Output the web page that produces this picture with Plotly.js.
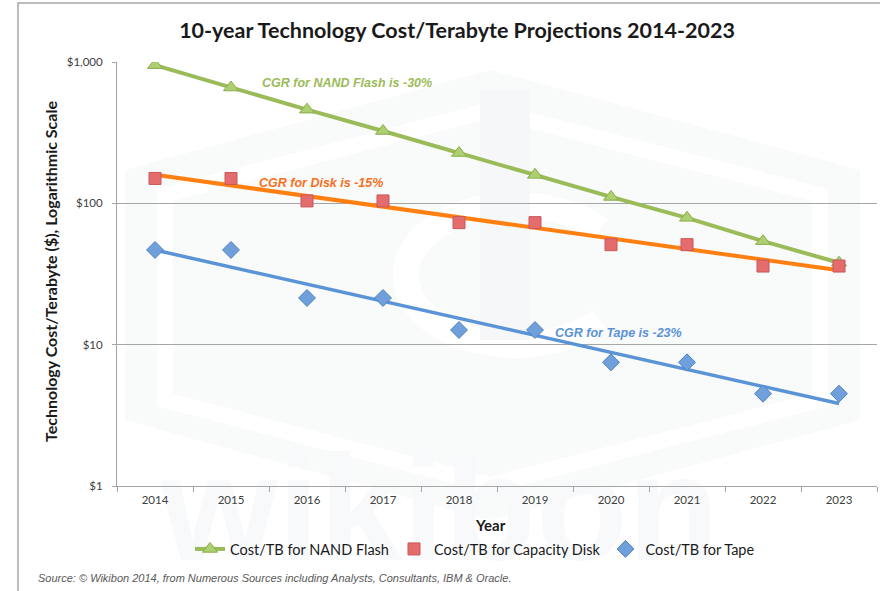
<!DOCTYPE html>
<html>
<head>
<meta charset="utf-8">
<script src="https://cdn.plot.ly/plotly-3.0.1.min.js"></script>
<style>
  html, body { margin: 0; padding: 0; background: #ffffff; }
  #chart { width: 880px; height: 591px; }
</style>
</head>
<body>
<div id="chart"></div>
<script>
// ---- data ----
const years = ['2014', '2015', '2016', '2017', '2018', '2019', '2020', '2021', '2022', '2023'];
const nandFlash = [950, 660, 460, 325, 227, 159, 111, 79, 54, 38];
const capacityDisk = [150, 150, 104, 104, 73, 73, 51, 51, 36, 36];
const tape = [46.8, 46.8, 21.4, 21.4, 12.7, 12.7, 7.5, 7.5, 4.5, 4.5];
const yTickVals = [1, 10, 100, 1000];
const yTickText = ['$1', '$10', '$100', '$1,000'];
const seriesNames = ['Cost/TB for NAND Flash', 'Cost/TB for Capacity Disk', 'Cost/TB for Tape'];
const cgrLabels = ['CGR for NAND Flash is -30%', 'CGR for Disk is -15%', 'CGR for Tape is -23%'];

// Exponential (log-linear) least-squares trendline, as Excel draws it
function expTrend(vals) {
  const n = vals.length;
  const xs = vals.map((_, i) => i);
  const ys = vals.map(v => Math.log10(v));
  const mx = xs.reduce((a, b) => a + b, 0) / n;
  const my = ys.reduce((a, b) => a + b, 0) / n;
  let sxy = 0, sxx = 0;
  for (let i = 0; i < n; i++) { sxy += (xs[i] - mx) * (ys[i] - my); sxx += (xs[i] - mx) ** 2; }
  const b = sxy / sxx;
  return xs.map(x => Math.pow(10, my + b * (x - mx)));
}

const green = '#9bbb59', orange = '#ff7f10', blue = '#5a93d6';

const traces = [
  {
    x: years, y: nandFlash, mode: 'lines+markers', name: seriesNames[0], legendrank: 1,
    line: { color: green, width: 4 },
    marker: { symbol: 'triangle-up', size: 13, color: '#acd070', line: { color: '#8aab4c', width: 1 } }
  },
  {
    x: years, y: expTrend(capacityDisk), mode: 'lines', showlegend: false, hoverinfo: 'skip',
    line: { color: orange, width: 4 }
  },
  {
    x: years, y: expTrend(tape), mode: 'lines', showlegend: false, hoverinfo: 'skip',
    line: { color: blue, width: 3.5 }
  },
  {
    x: years, y: capacityDisk, mode: 'markers', name: seriesNames[1], legendrank: 2,
    marker: { symbol: 'square', size: 12, color: '#e46c6c', line: { color: '#c9575a', width: 1 } }
  },
  {
    x: years, y: tape, mode: 'markers', name: seriesNames[2], legendrank: 3,
    marker: { symbol: 'diamond', size: 13, color: '#6fa0dc', line: { color: '#4f81bd', width: 1 } }
  }
];

// plot area in pixels: left 117, right 877, top 62, bottom 486
const PL = 117, PR = 877, PT = 62, PB = 486;
const px = x => (x - PL) / (PR - PL);
const py = y => (PB - y) / (PB - PT);

// faint watermark (decoration)
const wm = `<svg xmlns="http://www.w3.org/2000/svg" width="880" height="591" viewBox="0 0 880 591">
<polygon points="490,70 860,170 860,420 490,520 125,420 125,170" fill="#f2f3f5"/>
<polygon points="490,110 820,195 820,400 490,485 165,400 165,195" fill="none" stroke="#ffffff" stroke-width="16"/>
<path d="M600,230 A110,70 0 1 0 600,320" fill="none" stroke="#ffffff" stroke-width="26"/>
<rect x="480" y="90" width="50" height="250" fill="#ebedf0"/>
<text x="440" y="560" text-anchor="middle" font-family="Liberation Sans, Arial, sans-serif" font-weight="bold" font-size="150" fill="#f0f1f3">wikibon</text>
</svg>`;
const wmURI = 'data:image/svg+xml;charset=utf-8,' + encodeURIComponent(wm);

const annFont = c => ({ family: '"Liberation Sans", Arial, sans-serif', size: 12.5, color: c, style: 'italic', weight: 'bold' });

const layout = {
  width: 880, height: 591,
  margin: { l: PL, r: 880 - PR, t: PT, b: 591 - PB, pad: 0 },
  paper_bgcolor: '#ffffff',
  plot_bgcolor: 'rgba(0,0,0,0)',
  font: { family: 'Lato, "Open Sans", sans-serif', color: '#404040' },
  title: {
    text: '10-year Technology Cost/Terabyte Projections 2014-2023',
    font: { family: 'Lato, "Open Sans", sans-serif', size: 21.5, color: '#1a1a1a', weight: 'bold' },
    x: 457 / 880, xref: 'container', xanchor: 'center',
    y: 1 - 30 / 591, yref: 'container', yanchor: 'middle'
  },
  xaxis: {
    type: 'category', range: [-0.5, 9.5], autorange: false,
    showgrid: false,
    showline: true, linecolor: '#a6a6a6', linewidth: 1,
    ticks: 'outside', tickson: 'boundaries', ticklen: 5, tickcolor: '#a6a6a6',
    ticklabelstandoff: 3,
    tickfont: { size: 11.5, color: '#404040' },
    fixedrange: true
  },
  yaxis: {
    type: 'log', range: [0, 3], autorange: false,
    tickvals: yTickVals, ticktext: yTickText,
    showgrid: true, gridcolor: '#a6a6a6', gridwidth: 1,
    showline: true, linecolor: '#a6a6a6', linewidth: 1,
    ticks: 'outside', ticklen: 4, tickcolor: '#a6a6a6',
    ticklabelstandoff: 7,
    tickfont: { size: 11.5, color: '#404040' },
    zeroline: false, fixedrange: true
  },
  showlegend: true,
  legend: {
    orientation: 'h', x: px(475), xanchor: 'center', y: py(549), yanchor: 'middle',
    font: { size: 14.5, color: '#1a1a1a' },
    itemwidth: 30, traceorder: 'normal', bgcolor: 'rgba(0,0,0,0)'
  },
  images: [{
    source: wmURI, xref: 'paper', yref: 'paper',
    x: px(0), y: py(0), sizex: 880 / (PR - PL), sizey: 591 / (PB - PT),
    xanchor: 'left', yanchor: 'top', sizing: 'stretch', layer: 'below', opacity: 0.4
  }],
  shapes: [{
    type: 'rect', xref: 'paper', yref: 'paper',
    x0: px(18), x1: px(890), y0: py(600), y1: py(3),
    line: { color: '#a6a6a6', width: 1.5 }, fillcolor: 'rgba(0,0,0,0)', layer: 'below'
  }],
  annotations: [
    { text: cgrLabels[0], xref: 'paper', yref: 'paper', x: px(347), y: py(83), xanchor: 'center', yanchor: 'middle',
      showarrow: false, font: annFont(green) },
    { text: cgrLabels[1], xref: 'paper', yref: 'paper', x: px(321), y: py(183), xanchor: 'center', yanchor: 'middle',
      showarrow: false, font: annFont('#f7701d') },
    { text: cgrLabels[2], xref: 'paper', yref: 'paper', x: px(618), y: py(333), xanchor: 'center', yanchor: 'middle',
      showarrow: false, font: annFont(blue) },
    { text: 'Technology Cost/Terabyte ($), Logarithmic Scale', xref: 'paper', yref: 'paper',
      x: px(50), y: py(272), xanchor: 'center', yanchor: 'middle', textangle: -90, showarrow: false,
      font: { size: 16, color: '#1a1a1a', weight: 'bold' } },
    { text: 'Year', xref: 'paper', yref: 'paper', x: px(490), y: py(525), xanchor: 'center', yanchor: 'middle',
      showarrow: false, font: { size: 15, color: '#1a1a1a', weight: 'bold' } },
    { text: 'Source: © Wikibon 2014, from Numerous Sources including Analysts, Consultants, IBM & Oracle.',
      xref: 'paper', yref: 'paper', x: px(36), xanchor: 'left', y: py(578), yanchor: 'middle', showarrow: false,
      font: { family: '"Liberation Sans", Arial, sans-serif', size: 11, color: '#595959', style: 'italic' } }
  ]
};

Plotly.newPlot('chart', traces, layout, { displayModeBar: false, staticPlot: true });
</script>
</body>
</html>
